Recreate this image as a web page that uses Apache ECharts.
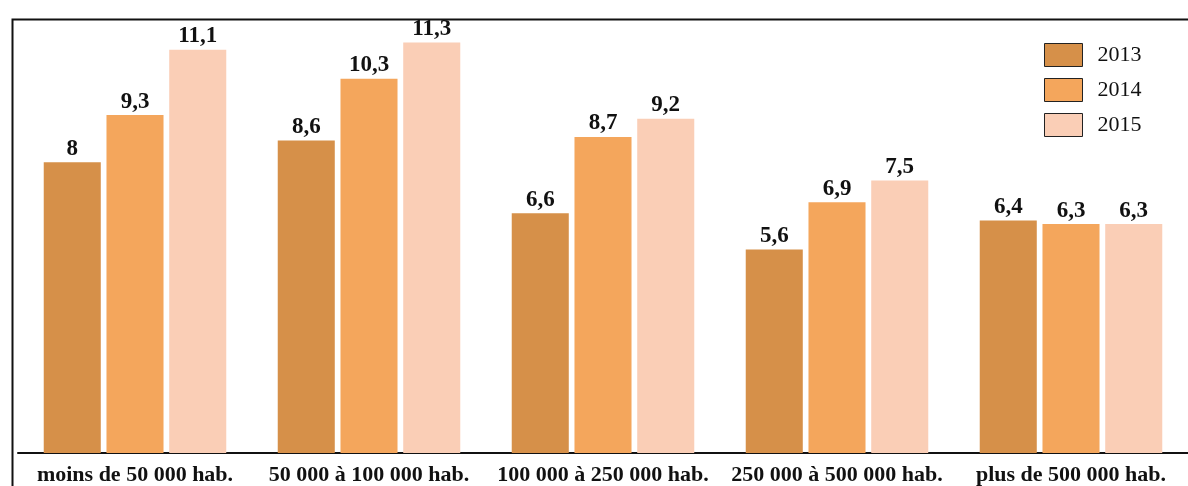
<!DOCTYPE html>
<html><head><meta charset="utf-8">
<script src="https://cdn.jsdelivr.net/npm/echarts@6/dist/echarts.min.js"></script>
<style>html,body{margin:0;padding:0;background:#fff}#c{width:1188px;height:486px}</style>
</head><body><div id="c"></div>
<script>
const categories = ['moins de 50 000 hab.', '50 000 à 100 000 hab.', '100 000 à 250 000 hab.', '250 000 à 500 000 hab.', 'plus de 500 000 hab.'];
const years = ['2013', '2014', '2015'];
const v2013 = [8, 8.6, 6.6, 5.6, 6.4];
const v2014 = [9.3, 10.3, 8.7, 6.9, 6.3];
const v2015 = [11.1, 11.3, 9.2, 7.5, 6.3];
const colors = ['#D69049', '#F4A65C', '#FACEB6'];
const FONT = '"Liberation Serif", "DejaVu Serif", serif';
const chart = echarts.init(document.getElementById('c'));
const mk = (name, data, i) => ({
  name, type: 'bar', data, barGap: '10%', barCategoryGap: '22%',
  itemStyle: { color: colors[i] },
  label: { show: true, position: 'top', distance: 2, color: '#111', fontFamily: FONT, fontWeight: 'bold', fontSize: 23,
    formatter: p => String(p.value).replace('.', ',') }
});
chart.setOption({
  animation: false,
  textStyle: { fontFamily: FONT },
  grid: { left: 18, right: 0, top: 17, bottom: 32, containLabel: false },
  legend: { orient: 'vertical', left: 1039, top: 38, itemWidth: 38, itemHeight: 23, itemGap: 11,
    icon: 'rect', data: years,
    itemStyle: { borderColor: '#222', borderWidth: 1 },
    textStyle: { fontFamily: FONT, fontSize: 22, color: '#111', padding: [0, 0, 0, 10] } },
  xAxis: { type: 'category', data: categories,
    axisLine: { lineStyle: { color: '#111', width: 2 } }, axisTick: { show: false },
    axisLabel: { color: '#111', fontFamily: FONT, fontWeight: 'bold', fontSize: 22, margin: 11, interval: 0 } },
  yAxis: { type: 'value', min: 0, max: 12, show: false, splitLine: { show: false } },
  graphic: [{ type: 'rect', left: 10, top: 17, shape: { width: 1300, height: 600 },
    style: { fill: 'none', stroke: '#111', lineWidth: 2 }, silent: true, z: 100 }],
  series: [mk(years[0], v2013, 0), mk(years[1], v2014, 1), mk(years[2], v2015, 2)]
});
</script></body></html>
